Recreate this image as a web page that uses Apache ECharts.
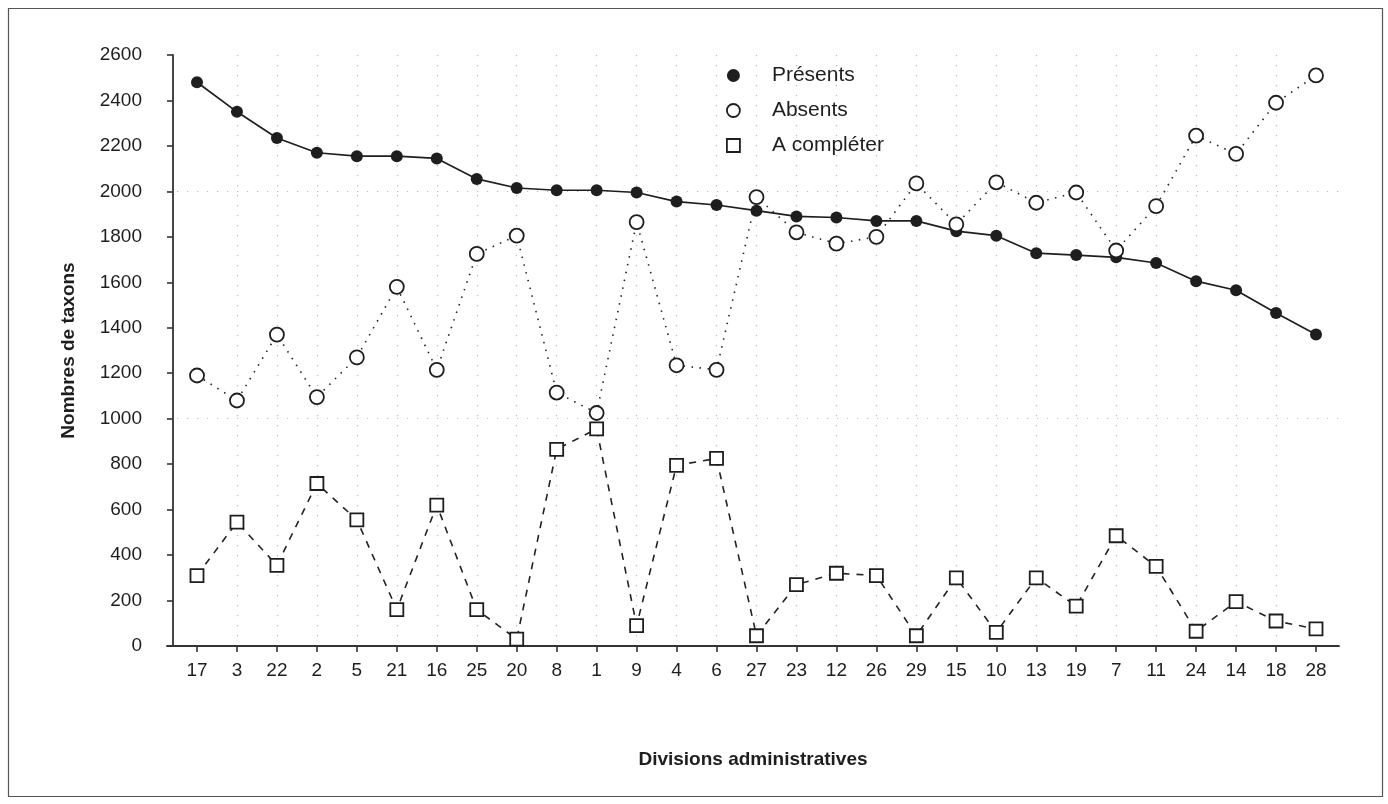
<!DOCTYPE html>
<html>
<head>
<meta charset="utf-8">
<script src="https://cdn.jsdelivr.net/npm/echarts@6/dist/echarts.min.js"></script>
<style>
html,body{margin:0;padding:0;background:#fff;}
#chart{width:1388px;height:804px;}
</style>
</head>
<body>
<div id="chart"></div>
<script>
const categories = ['17','3','22','2','5','21','16','25','20','8','1','9','4','6','27','23','12','26','29','15','10','13','19','7','11','24','14','18','28'];
const presents = [2480,2350,2235,2170,2155,2155,2145,2055,2015,2005,2005,1995,1955,1940,1915,1890,1885,1870,1870,1825,1805,1728,1720,1710,1685,1605,1565,1465,1370];
const absents = [1190,1080,1370,1095,1270,1580,1215,1725,1805,1115,1025,1865,1235,1215,1975,1820,1770,1800,2035,1855,2040,1950,1995,1740,1935,2245,2165,2390,2510];
const aCompleter = [310,545,355,715,555,160,620,160,30,865,955,90,795,825,45,270,320,310,45,300,60,300,175,485,350,65,195,110,75];
const yTicks = [0,200,400,600,800,1000,1200,1400,1600,1800,2000,2200,2400,2600];

const FONT = "'Liberation Sans', Arial, Helvetica, sans-serif";
const INK = '#1e1e1e';
const idx = categories.map((c,i)=>i);
const pairs = arr => arr.map((v,i)=>[i,v]);

const chart = echarts.init(document.getElementById('chart'), null, {renderer:'canvas'});
chart.setOption({
  backgroundColor:'#fff',
  animation:false,
  textStyle:{fontFamily:FONT},
  graphic:[{type:'rect',silent:true,z:-1,shape:{x:8.5,y:8.5,width:1374,height:788},style:{fill:'none',stroke:'#555',lineWidth:1.2}}],
  grid:{left:167,right:49,top:55,bottom:158},
  legend:{
    orient:'vertical', left:721, top:60, itemWidth:13, itemHeight:13, itemGap:14,
    textStyle:{fontFamily:FONT,fontSize:21,color:INK,padding:[0,0,0,27]},
    data:[
      {name:'Présents',icon:'circle',itemStyle:{color:INK,borderWidth:0}},
      {name:'Absents',icon:'circle',itemStyle:{color:'#fff',borderColor:INK,borderWidth:1.8}},
      {name:'A compléter',icon:'rect',itemStyle:{color:'#fff',borderColor:INK,borderWidth:1.8}}
    ]
  },
  xAxis:{
    type:'value', min:-0.7507, max:28.5755,
    name:'Divisions administratives', nameLocation:'middle', nameGap:104,
    nameTextStyle:{fontFamily:FONT,fontSize:19,fontWeight:'bold',color:INK},
    axisLine:{show:true,onZero:false,lineStyle:{color:'#333',width:1.8}},
    axisTick:{show:true,length:6,customValues:idx,lineStyle:{color:'#333',width:1.6}},
    axisLabel:{show:true,margin:15,customValues:idx,fontFamily:FONT,fontSize:19,color:INK,formatter:v=>categories[Math.round(v)]},
    splitLine:{show:true,showMinLine:false,showMaxLine:false,lineStyle:{color:'#b8b8b8',width:1.2,type:[1.2,8.8]}}
  },
  yAxis:[{
    type:'value', min:0, max:2600, interval:200, offset:-6,
    name:'Nombres de taxons', nameLocation:'middle', nameGap:95, nameRotate:90,
    nameTextStyle:{fontFamily:FONT,fontSize:19,fontWeight:'bold',color:INK},
    axisLine:{show:true,onZero:false,lineStyle:{color:'#333',width:1.8}},
    axisTick:{show:true,length:6,lineStyle:{color:'#333',width:1.6}},
    axisLabel:{margin:31,fontFamily:FONT,fontSize:19,color:INK,formatter:v=>yTicks.includes(v)?String(v):''},
    splitLine:{show:false}
  },{
    type:'value', min:0, max:2600, interval:1000, position:'left',
    axisLine:{show:false,onZero:false}, axisTick:{show:false}, axisLabel:{show:false},
    splitLine:{show:true,showMinLine:false,showMaxLine:false,lineStyle:{color:'#b8b8b8',width:1.2,type:[1.2,8.8]}}
  }],
  series:[
    {name:'Présents',type:'line',data:pairs(presents),symbol:'circle',symbolSize:12,
     itemStyle:{color:INK,borderWidth:0},lineStyle:{color:INK,width:1.7},z:3},
    {name:'Absents',type:'line',data:pairs(absents),symbol:'circle',symbolSize:14,
     itemStyle:{color:'#fff',borderColor:INK,borderWidth:1.8},lineStyle:{color:'#222',width:1.6,type:[1.5,6.5]},z:4},
    {name:'A compléter',type:'line',data:pairs(aCompleter),symbol:'rect',symbolSize:13,
     itemStyle:{color:'#fff',borderColor:INK,borderWidth:1.8},lineStyle:{color:'#222',width:1.6,type:[7,7]},z:5}
  ]
});
</script>
</body>
</html>
